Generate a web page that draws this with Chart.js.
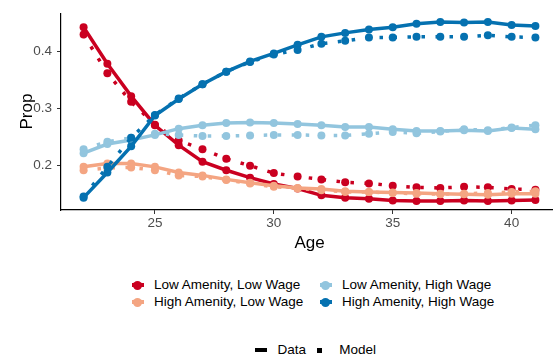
<!DOCTYPE html>
<html>
<head>
<meta charset="utf-8">
<script src="https://cdn.jsdelivr.net/npm/chart.js@4.4.1/dist/chart.umd.min.js"></script>
<style>
  html, body { margin: 0; padding: 0; background: #ffffff; overflow: hidden; width: 553px; height: 364px; }
  #wrap { position: absolute; left: 0; top: 0; width: 562px; height: 262px; }
  .leg { position: absolute; font-family: "Liberation Sans", Arial, sans-serif; font-size: 13.5px; line-height: 16px; color: #000; white-space: nowrap; }
  .key { position: absolute; width: 12px; height: 9px; }
  .key .bar { position: absolute; left: 0; top: 2.5px; width: 12px; height: 4px; }
  .key .dot { position: absolute; left: 1.5px; top: 0; width: 9px; height: 9px; border-radius: 50%; }
</style>
</head>
<body>
<div id="wrap"><canvas id="chart" width="562" height="262"></canvas></div>
<div id="legend"></div>
<script>
// Age grid and tick values
const ages = [22, 23, 24, 25, 26, 27, 28, 29, 30, 31, 32, 33, 34, 35, 36, 37, 38, 39, 40, 41];
const xTicks = [25, 30, 35, 40];
const yTicks = [0.2, 0.3, 0.4];

// Group labels and colours
const groups = ["Low Amenity, Low Wage", "High Amenity, Low Wage", "Low Amenity, High Wage", "High Amenity, High Wage"];
const colors = ["#CA0020", "#F4A582", "#92C5DE", "#0571B0"];

// Observed shares by age
const lalwData = [0.443, 0.379, 0.322, 0.271, 0.236, 0.207, 0.192, 0.179, 0.168, 0.160, 0.148, 0.144, 0.142, 0.139, 0.138, 0.138, 0.139, 0.138, 0.139, 0.140];
const halwData = [0.198, 0.204, 0.204, 0.198, 0.188, 0.183, 0.176, 0.170, 0.165, 0.161, 0.159, 0.155, 0.154, 0.153, 0.152, 0.151, 0.150, 0.149, 0.151, 0.151];
const lahwData = [0.222, 0.238, 0.245, 0.254, 0.265, 0.271, 0.275, 0.276, 0.275, 0.273, 0.271, 0.268, 0.268, 0.264, 0.261, 0.261, 0.262, 0.261, 0.266, 0.264];
const hahwData = [0.144, 0.188, 0.234, 0.288, 0.317, 0.343, 0.365, 0.383, 0.397, 0.412, 0.426, 0.433, 0.439, 0.443, 0.449, 0.452, 0.451, 0.452, 0.447, 0.445];

// Model-predicted shares by age
const lalwModel = [0.430, 0.362, 0.312, 0.272, 0.244, 0.229, 0.212, 0.200, 0.187, 0.181, 0.176, 0.171, 0.169, 0.165, 0.162, 0.161, 0.163, 0.162, 0.159, 0.158];
const halwModel = [0.192, 0.196, 0.197, 0.192, 0.183, 0.181, 0.175, 0.169, 0.163, 0.160, 0.157, 0.154, 0.154, 0.152, 0.151, 0.150, 0.151, 0.152, 0.154, 0.155];
const lahwModel = [0.229, 0.242, 0.249, 0.256, 0.254, 0.252, 0.252, 0.253, 0.254, 0.254, 0.253, 0.253, 0.256, 0.259, 0.257, 0.260, 0.264, 0.262, 0.267, 0.271];
const hahwModel = [0.146, 0.198, 0.249, 0.289, 0.318, 0.343, 0.365, 0.382, 0.395, 0.403, 0.414, 0.419, 0.425, 0.425, 0.426, 0.426, 0.426, 0.429, 0.426, 0.425];

const dataSeries = [lalwData, halwData, lahwData, hahwData];
const modelSeries = [lalwModel, halwModel, lahwModel, hahwModel];

const FONT = '"Liberation Sans", Arial, sans-serif';

function toPoints(vals) {
  return ages.map((a, i) => ({ x: a, y: vals[i] }));
}

// Later groups sit on top (higher "order" draws first in Chart.js, so reverse it)
const datasets = [];
groups.forEach((g, gi) => {
  datasets.push({
    label: g + " (Data)",
    data: toPoints(dataSeries[gi]),
    borderColor: colors[gi],
    backgroundColor: colors[gi],
    borderWidth: 3.5,
    pointRadius: 4,
    pointBorderWidth: 0,
    pointBackgroundColor: colors[gi],
    tension: 0,
    order: 10 - gi * 2
  });
  datasets.push({
    label: g + " (Model)",
    data: toPoints(modelSeries[gi]),
    borderColor: colors[gi],
    backgroundColor: colors[gi],
    borderWidth: 3.5,
    borderDash: [3.5, 10.5],
    borderCapStyle: "butt",
    pointRadius: 4,
    pointBorderWidth: 0,
    pointBackgroundColor: colors[gi],
    tension: 0,
    order: 9 - gi * 2
  });
});

new Chart(document.getElementById("chart"), {
  type: "line",
  data: { datasets },
  options: {
    responsive: false,
    animation: false,
    devicePixelRatio: 1,
    layout: { padding: { top: 5.5, right: 0, left: 0, bottom: 0 } },
    plugins: { legend: { display: false }, tooltip: { enabled: false } },
    scales: {
      x: {
        type: "linear",
        min: 21.05,
        max: 41.95,
        afterBuildTicks: s => { s.ticks = xTicks.map(v => ({ value: v })); },
        afterFit: s => { s.height = 52; },
        ticks: { font: { family: FONT, size: 13.5 }, color: "#4D4D4D", padding: 1, maxRotation: 0, callback: v => String(v) },
        grid: { drawOnChartArea: false, drawTicks: true, tickLength: 4, tickColor: "#333333", color: "#333333" },
        border: { display: true, color: "#000000", width: 1.2 },
        title: { display: true, text: "Age", color: "#000000", font: { family: FONT, size: 17 }, padding: { top: 0, bottom: 8.5 } }
      },
      y: {
        type: "linear",
        min: 0.1223,
        max: 0.4677,
        afterBuildTicks: s => { s.ticks = yTicks.map(v => ({ value: v })); },
        afterFit: s => { s.width = 61; },
        ticks: { font: { family: FONT, size: 13.5 }, color: "#4D4D4D", padding: 5, callback: v => v.toFixed(1) },
        grid: { drawOnChartArea: false, drawTicks: true, tickLength: 4, tickColor: "#333333", color: "#333333" },
        border: { display: true, color: "#000000", width: 1.2 },
        title: { display: true, text: "Prop", color: "#000000", font: { family: FONT, size: 17 }, padding: { top: 17, bottom: 0 } }
      }
    }
  }
});

// Legends: colour (two columns) and line type
const legend = document.getElementById("legend");
const colX = [137.5, 325.5];
const rowY = [285, 302];
// column-major placement, as in the group order
const slots = [[0, 0], [0, 1], [1, 0], [1, 1]];
groups.forEach((g, gi) => {
  const [c, r] = slots[gi];
  const key = document.createElement("div");
  key.className = "key";
  key.style.left = (colX[c] - 6) + "px";
  key.style.top = (rowY[r] - 4.5) + "px";
  key.innerHTML = '<div class="bar" style="background:' + colors[gi] + '"></div><div class="dot" style="background:' + colors[gi] + '"></div>';
  legend.appendChild(key);
  const t = document.createElement("div");
  t.className = "leg";
  t.textContent = g;
  t.style.left = (colX[c] + 16.5) + "px";
  t.style.top = (rowY[r] - 8) + "px";
  legend.appendChild(t);
});

const lineTypes = [
  { label: "Data", left: 254.5, w: 12, h: 4.5, textLeft: 277.5 },
  { label: "Model", left: 316.7, w: 5, h: 5, textLeft: 339.3 }
];
const ltY = 350;
lineTypes.forEach(lt => {
  const k = document.createElement("div");
  k.style.position = "absolute";
  k.style.left = lt.left + "px";
  k.style.top = (ltY - lt.h / 2) + "px";
  k.style.width = lt.w + "px";
  k.style.height = lt.h + "px";
  k.style.background = "#000";
  legend.appendChild(k);
  const t = document.createElement("div");
  t.className = "leg";
  t.textContent = lt.label;
  t.style.left = lt.textLeft + "px";
  t.style.top = (ltY - 8) + "px";
  legend.appendChild(t);
});
</script>
</body>
</html>
